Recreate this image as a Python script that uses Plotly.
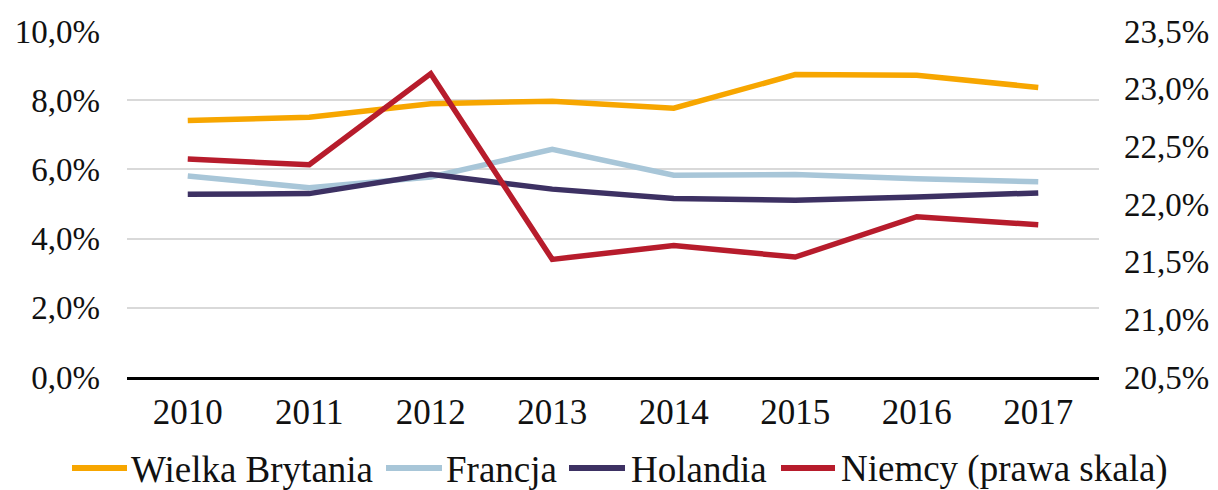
import plotly.graph_objects as go

years = ["2010", "2011", "2012", "2013", "2014", "2015", "2016", "2017"]
uk = [7.41, 7.51, 7.90, 7.97, 7.77, 8.74, 8.72, 8.37]
france = [5.81, 5.47, 5.78, 6.58, 5.83, 5.85, 5.73, 5.64]
netherlands = [5.28, 5.30, 5.86, 5.43, 5.16, 5.11, 5.20, 5.32]
germany = [22.39, 22.34, 23.13, 21.52, 21.64, 21.54, 21.89, 21.82]

names = ["Wielka Brytania", "Francja", "Holandia", "Niemcy (prawa skala)"]
colors = ["#F7A600", "#A8C6D8", "#3D3163", "#B71C2C"]

FONT = "Liberation Serif"
W, H = 1218, 490
ML, MR, MT, MB = 119, 127, 23, 121
PW, PH = W - ML - MR, H - MT - MB

fig = go.Figure()
for vals, name, col in zip([uk, france, netherlands], names[:3], colors[:3]):
    fig.add_trace(go.Scatter(x=years, y=vals, name=name, mode="lines",
                             line=dict(color=col, width=5.5)))
fig.add_trace(go.Scatter(x=years, y=germany, name=names[3], mode="lines",
                         line=dict(color=colors[3], width=5.5), yaxis="y2"))

# manual legend (pixel layout in figure coordinates)
def px(xp):
    return (xp - ML) / PW

def py(yp):
    return (MT + PH - yp) / PH

leg_y = 460
leg_items = [(64, 119, 122), (378, 434, 437), (561, 617, 622), (773, 827, 832)]
shapes = []
annotations = []
for (x0, x1, tx), name, col in zip(leg_items, names, colors):
    shapes.append(dict(type="line", xref="paper", yref="paper",
                       x0=px(x0), x1=px(x1), y0=py(leg_y), y1=py(leg_y),
                       line=dict(color=col, width=6)))
    annotations.append(dict(text=name, xref="paper", yref="paper",
                            x=px(tx), y=py(leg_y + 1), xanchor="left", yanchor="middle",
                            showarrow=False, borderpad=0,
                            font=dict(family=FONT, size=37, color="#111111")))

fig.update_layout(
    width=W, height=H,
    margin=dict(l=ML, r=MR, t=MT, b=MB),
    paper_bgcolor="white", plot_bgcolor="white",
    separators=", ",
    font=dict(family=FONT, size=33, color="#111111"),
    showlegend=False,
    shapes=shapes, annotations=annotations,
    xaxis=dict(type="category", range=[-0.5, 7.5], showgrid=False,
               showline=True, linecolor="black", linewidth=3,
               ticks="", ticklabelstandoff=2, automargin=False,
               tickfont=dict(family=FONT, size=35)),
    yaxis=dict(range=[0, 10], dtick=2, tickformat=".1f", ticksuffix="%",
               showgrid=True, gridcolor="#D9D9D9", gridwidth=1.5,
               zeroline=False, ticks="", ticklabelstandoff=26, automargin=False,
               tickfont=dict(family=FONT, size=33)),
    yaxis2=dict(range=[20.5, 23.5], dtick=0.5, tickformat=".1f", ticksuffix="%",
                overlaying="y", side="right", showgrid=False, zeroline=False,
                ticks="", ticklabelstandoff=24, automargin=False,
                tickfont=dict(family=FONT, size=33)),
)

fig.write_html("out.html")
